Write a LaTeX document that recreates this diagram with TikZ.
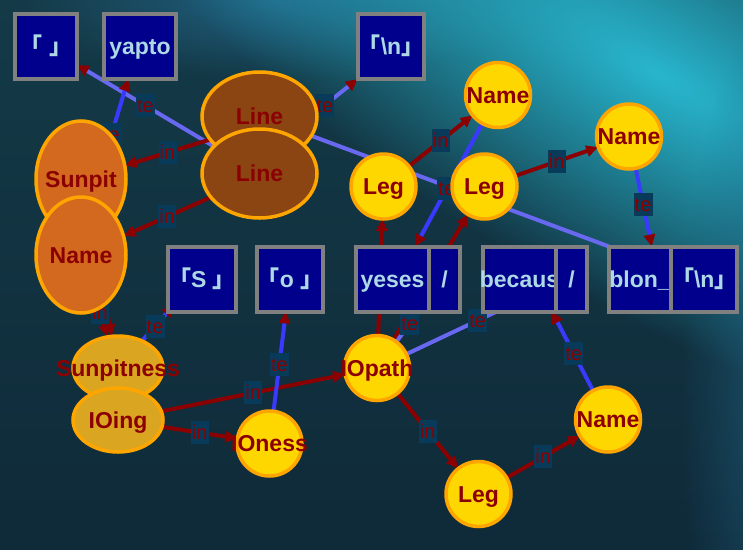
\documentclass[tikz,border=0pt]{standalone}
\usepackage{fontspec}
\setmainfont{Liberation Sans}
\newfontfamily\cjk{Noto Sans CJK JP}
\usetikzlibrary{positioning, shapes.geometric, arrows.meta, backgrounds, fadings}
\definecolor{bgtop}{RGB}{20,58,71}
\definecolor{bgdark}{RGB}{15,42,57}
\definecolor{glow}{RGB}{40,182,206}
\definecolor{glowblue}{RGB}{32,96,128}
\definecolor{lblbg}{RGB}{8,58,90}
\definecolor{boxblue}{RGB}{0,0,140}
\definecolor{cellgray}{RGB}{128,128,128}
\definecolor{paleblue}{RGB}{173,216,230}
\definecolor{inred}{RGB}{139,0,0}
\definecolor{tebright}{RGB}{58,58,255}
\definecolor{telight}{RGB}{104,104,240}
\definecolor{ringorange}{RGB}{255,165,0}
\definecolor{gold}{RGB}{255,215,0}
\definecolor{saddle}{RGB}{139,69,19}
\definecolor{choco}{RGB}{210,105,30}
\definecolor{golden}{RGB}{218,165,32}
\tikzfading[name=glowfade, inner color=transparent!0, outer color=transparent!100]
\newcommand{\spill}[1]{\makebox[0pt]{#1}}

\begin{document}
\begin{tikzpicture}[x=1pt, y=-1pt,
  every node/.style = {inner sep=0pt, outer sep=0pt, text=inred,
    font=\fontsize{23}{28}\selectfont\bfseries, text height=16.5pt, text depth=0pt},
  ring/.style = {circle, draw=ringorange, line width=3.5pt, fill=gold, minimum size=65pt},
  oval/.style = {ellipse, draw=ringorange, line width=3.5pt},
  lineoval/.style = {oval, fill=saddle, minimum width=115pt, minimum height=89pt},
  tall/.style = {oval, fill=choco, minimum width=90pt, minimum height=116pt},
  flat/.style = {oval, fill=golden, minimum width=90pt, minimum height=64pt},
  cell/.style = {rectangle, draw=cellgray, line width=4pt, fill=boxblue,
    text=paleblue, minimum width=62pt, minimum height=65pt},
  lbl/.style = {fill=lblbg, text=inred, font=\fontsize{20}{24}\selectfont,
    text height=14pt, inner xsep=1.2pt, minimum height=23pt},
  headred/.style = {-{Triangle[length=12pt, width=11pt, color=inred]}},
  inedge/.style = {draw=inred, line width=4pt, headred},
  teedge/.style = {draw=tebright, line width=4pt, headred},
  tepale/.style = {draw=telight, line width=4pt}]
  \useasboundingbox (0,0) rectangle (743,549);

  \node[cell] (blank) at (46,46.5) {{\cjk 「} {\cjk 」}};
  \node[cell, minimum width=72pt] (yapto) at (140,46.5) {yapto};
  \node[cell] (nlA) at (391,46.5) {{\cjk 「}\textbackslash n{\cjk 」}};
  \node[lineoval] (Line1) at (259.5,116.5) {Line};
  \node[lineoval] (Line2) at (259.5,173.5) {Line};
  \node[tall] (Sunpit) at (81,179) {\spill{Sunpit}};
  \node[tall] (NameL) at (81,255) {Name};
  \node[ring] (NameA) at (498,95) {Name};
  \node[ring] (NameB) at (629,136.5) {Name};
  \node[ring] (Leg1) at (383.5,186.5) {Leg};
  \node[ring] (Leg2) at (484.5,186.5) {Leg};
  \node[cell] (boxS) at (202,279) {{\cjk 「}S {\cjk 」}};
  \node[cell] (boxo) at (290,279) {{\cjk 「}o {\cjk 」}};
  \node[cell, minimum width=73pt] (yeses) at (392.5,279) {yeses};
  \node[cell, minimum width=31pt, right=0pt of yeses] (slashA) {/};
  \node[cell, minimum width=73pt] (becaus) at (519.5,279) {\spill{becaus}};
  \node[cell, minimum width=31pt, right=0pt of becaus] (slashB) {/};
  \node[cell] (blon) at (640,279) {blon\_};
  \node[cell, right=0pt of blon] (nlB) {{\cjk 「}\textbackslash n{\cjk 」}};
  \node[flat] (Sunpitness) at (118,368) {\spill{Sunpitness}};
  \node[flat] (IOing) at (118,420) {IOing};
  \node[ring] (Oness) at (269.5,443.5) {\spill{IOness}};
  \node[ring] (IOpath) at (377,368) {\spill{IOpath}};
  \node[ring] (LegC) at (478.5,494) {Leg};
  \node[ring] (NameC) at (608,419.5) {Name};

  \begin{pgfonlayer}{background}
    \shade[top color=bgtop, bottom color=bgdark] (0,0) rectangle (743,549);
    \begin{scope}
      \clip (0,0) rectangle (743,549);
      \fill[glowblue, path fading=glowfade, transform canvas={shift={(280,0)}}]
        (0,0) ellipse [x radius=260, y radius=80];
      \fill[glow, path fading=glowfade, transform canvas={shift={(660,75)}, rotate=-30}]
        (0,0) ellipse [x radius=700, y radius=230];
      \fill[glowblue, path fading=glowfade, opacity=0.6, transform canvas={shift={(770,400)}}]
        (0,0) ellipse [x radius=90, y radius=380];
    \end{scope}

    \draw[tepale, headred] (Line2) -- node[lbl] {te} (blank);
    \draw[teedge] (Sunpit.55) -- node[lbl, pos=0.02] {te} (yapto.-110);
    \draw[tepale, headred] (Line1.5) -- node[lbl, pos=0.2] {te} (nlA.south west);
    \draw[inedge] (Line1.205) -- node[lbl] {in} (Sunpit.17);
    \draw[inedge] (Line2.206) -- node[lbl] {in} (NameL.24);
    \draw[tepale] (Line1) -- (blon.north west);
    \draw[inedge] (Leg1) -- node[lbl] {in} (NameA);
    \draw[teedge] (NameA) -- node[lbl, pos=0.53] {te} (yeses.55);
    \draw[inedge] (Leg2) -- node[lbl] {in} (NameB);
    \draw[teedge] (NameB) -- node[lbl, pos=0.46] {te} (blon.70);
    \draw[inedge] (IOpath) -- (Leg1);
    \draw[inedge] (IOpath) -- (Leg2);
    \draw[tepale] (IOpath) -- node[lbl, pos=0.6] {te} (yeses.-51);
    \draw[tepale] (IOpath) -- node[lbl, pos=0.79] {te} (becaus.-125);
    \draw[inedge] (Sunpit) -- (Sunpitness);
    \draw[inedge] (NameL) -- node[lbl, pos=0.15] {in} (Sunpitness);
    \draw[teedge, shorten >=-9pt] (Sunpitness) -- node[lbl] {te} (boxS.south west);
    \draw[inedge] (IOing) -- node[lbl] {in} (IOpath);
    \draw[inedge] (IOing) -- node[lbl] {in} (Oness);
    \draw[teedge] (Oness) -- node[lbl, pos=0.47] {te} (boxo);
    \draw[inedge] (IOpath) -- node[lbl] {in} (LegC);
    \draw[inedge] (LegC) -- node[lbl] {in} (NameC);
    \draw[teedge] (NameC) -- node[lbl, pos=0.47] {te} (becaus.-45);
  \end{pgfonlayer}
\end{tikzpicture}
\end{document}
